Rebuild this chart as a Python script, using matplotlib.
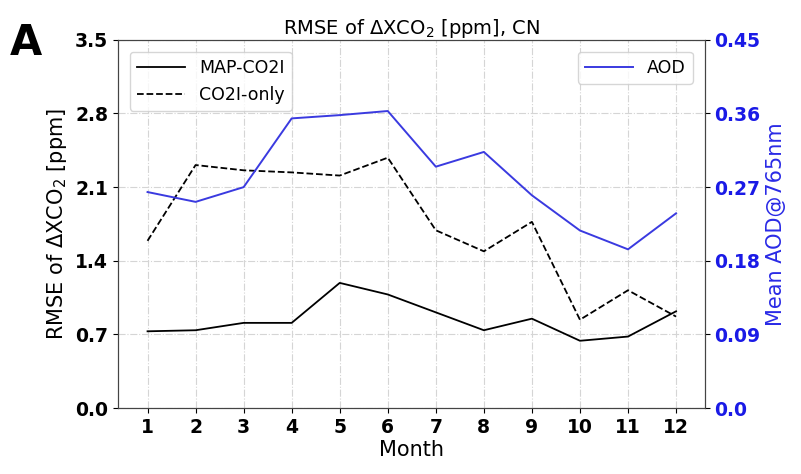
import numpy as np
import matplotlib.pyplot as plt

# monthly RMSE of dXCO2 over CN and mean AOD
months = np.arange(1, 13)
rmse_map_co2i = [0.73, 0.74, 0.81, 0.81, 1.19, 1.08, 0.91, 0.74, 0.85, 0.64, 0.68, 0.92]
rmse_co2i_only = [1.59, 2.31, 2.26, 2.24, 2.21, 2.38, 1.69, 1.49, 1.77, 0.84, 1.12, 0.87]
aod_765 = [0.264, 0.252, 0.270, 0.354, 0.358, 0.363, 0.295, 0.313, 0.260, 0.217, 0.194, 0.238]

left_ticks = [0.0, 0.7, 1.4, 2.1, 2.8, 3.5]
right_ticks = [0.0, 0.09, 0.18, 0.27, 0.36, 0.45]

fig = plt.figure(figsize=(8.01, 4.74), dpi=100)
ax = fig.add_axes([0.147, 0.139, 0.733, 0.777])

l1, = ax.plot(months, rmse_map_co2i, color='k', lw=1.3, label='MAP-CO2I')
l2, = ax.plot(months, rmse_co2i_only, color='k', lw=1.3, ls='--', label='CO2I-only')
ax.set_ylim(0, 3.5)
ax.set_yticks(left_ticks)
ax.set_yticklabels([f'{v:.1f}' for v in left_ticks])
ax.set_xlim(0.38, 12.6)
ax.set_xticks(months)
ax.grid(True, ls='-.', color='#d5d5d5', lw=0.8)
ax.tick_params(labelsize=13.5)
for lab in ax.get_xticklabels() + ax.get_yticklabels():
    lab.set_fontweight('bold')
ax.set_xlabel('Month', fontsize=15, labelpad=2)
ax.set_ylabel('RMSE of ΔXCO$_2$ [ppm]', fontsize=15)
ax.set_title('RMSE of ΔXCO$_2$ [ppm], CN', fontsize=14, pad=4)
ax.legend(handles=[l1, l2], loc='upper left', fontsize=12.5, handlelength=2.8,
          borderaxespad=0.7)

ax2 = ax.twinx()
l3, = ax2.plot(months, aod_765, color='#3a3ae0', lw=1.4, label='AOD')
ax2.set_ylim(0, 0.45)
ax2.set_yticks(right_ticks)
ax2.set_yticklabels([f'{v:.2f}'.replace('0.00', '0.0') for v in right_ticks])
ax2.tick_params(labelsize=13.5, labelcolor='#1a1ae6')
for lab in ax2.get_yticklabels():
    lab.set_fontweight('bold')
ax2.set_ylabel('Mean AOD@765nm', fontsize=15, color='#2a2ae6')
ax2.legend(handles=[l3], loc='upper right', fontsize=12.5, handlelength=2.8,
           borderaxespad=0.7)

for a in (ax, ax2):
    for sp in a.spines.values():
        sp.set_color('#444444')

fig.text(0.012, 0.885, 'A', fontsize=30, fontweight='bold')

fig.savefig('out.png', dpi=100)
